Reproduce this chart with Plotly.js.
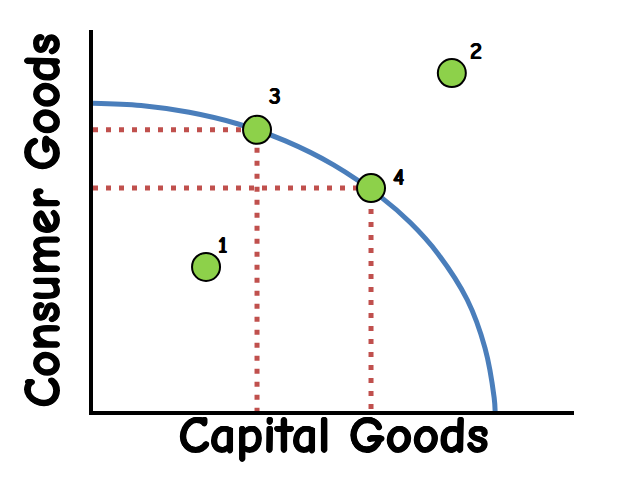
<!DOCTYPE html>
<html><head><meta charset="utf-8">
<script src="https://cdn.plot.ly/plotly-3.0.1.min.js"></script>
<style>html,body{margin:0;padding:0;background:#fff}#c{width:618px;height:494px}</style>
</head><body><div id="c"></div>
<script>
// Production possibilities frontier
const ppfX = [0, 1, 2, 3, 4, 5, 6, 6.6, 7.17, 7.78, 8.15, 8.34, 8.36];
const ppfY = [8.08, 8.02, 7.84, 7.54, 7.09, 6.46, 5.60, 4.94, 4.13, 2.92, 1.65, 0.35, 0];
// Labelled points
const pointLabels = ["1", "2", "3", "4"];
const pointX = [2.35, 7.46, 3.41, 5.78];
const pointY = [3.78, 8.87, 7.38, 5.85];
const xTitle = "Capital Goods";
const yTitle = "Consumer Goods";

const font = '"Comic Sans MS", "Comic Neue", "Lato", "Noto Sans", sans-serif';
const thick = '0.7px 0 0 #000, -0.7px 0 0 #000, 0 0.7px 0 #000, 0 -0.7px 0 #000';
const thin = '0.4px 0 0 #000, -0.4px 0 0 #000';
const dotLine = {color: '#c0504d', width: 5, dash: '5px,8px'};

// Guide lines from axes to points 3 and 4
const guides = [2, 3].map(i => ({
  x: [0, pointX[i], pointX[i]],
  y: [pointY[i], pointY[i], 0],
  mode: 'lines', line: dotLine, hoverinfo: 'skip', showlegend: false
}));

const traces = guides.concat([
  {x: ppfX, y: ppfY, mode: 'lines', line: {color: '#4a7ebb', width: 5, shape: 'spline', smoothing: 1}, showlegend: false},
  {x: pointX, y: pointY, mode: 'markers',
   marker: {size: 28, color: '#8dd14a', line: {color: '#000', width: 2}}, showlegend: false}
]);

const labelOffsets = [[16, 22], [24, 22], [18, 34], [27, 11]];
const annotations = pointLabels.map((t, i) => ({
  x: pointX[i], y: pointY[i], text: t, showarrow: false,
  xshift: labelOffsets[i][0], yshift: labelOffsets[i][1],
  font: {family: font, size: 24, color: '#000', weight: 'bold', shadow: thin}
}));

const layout = {
  width: 618, height: 494,
  margin: {l: 93, r: 44, t: 30, b: 83},
  paper_bgcolor: '#fff', plot_bgcolor: '#fff',
  showlegend: false,
  xaxis: {range: [0, 10], showgrid: false, zeroline: false, showticklabels: false, ticks: '',
          showline: true, linecolor: '#000', linewidth: 4, fixedrange: true,
          title: {text: xTitle, font: {family: font, size: 52, color: '#000', weight: 'bold', shadow: thick}, standoff: 3}},
  yaxis: {range: [0, 10], showgrid: false, zeroline: false, showticklabels: false, ticks: '',
          showline: true, linecolor: '#000', linewidth: 4, fixedrange: true,
          title: {text: yTitle, font: {family: font, size: 51, color: '#000', weight: 'bold', shadow: thick}, standoff: 14}},
  annotations: annotations
};
Plotly.newPlot('c', traces, layout, {displayModeBar: false, staticPlot: true});
</script></body></html>
